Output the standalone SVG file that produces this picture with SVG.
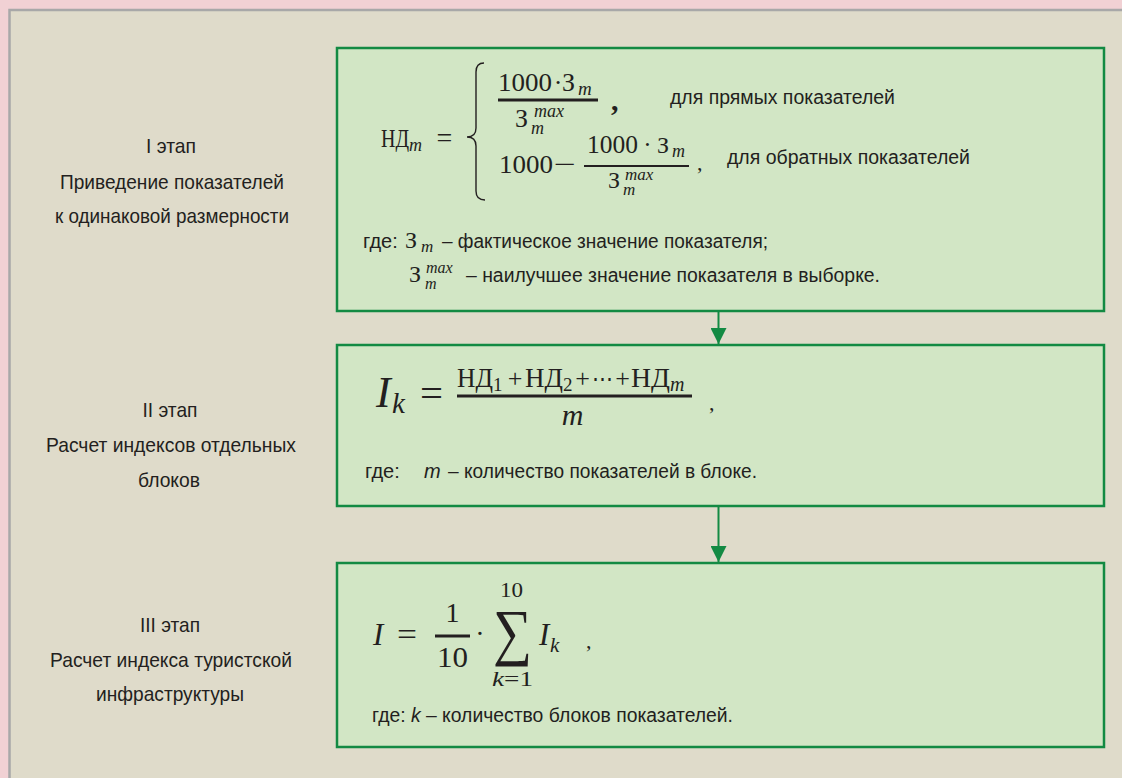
<svg xmlns="http://www.w3.org/2000/svg" width="1122" height="778" viewBox="0 0 1122 778">
<defs>
<style>
.lbl{font-family:"Liberation Sans",Arial,sans-serif;font-size:21px;fill:#231f20;text-anchor:middle}
.t{font-family:"Liberation Sans",Arial,sans-serif;font-size:20px;fill:#231f20}
.m{font-family:"Liberation Serif","Times New Roman",serif;fill:#231f20}
.i{font-style:italic}
.box{fill:#d2e6c5;stroke:#138a43;stroke-width:2.5}
.fl{stroke:#231f20}
.con{stroke:#138a43;stroke-width:2;fill:none}
</style>
<marker id="ah" markerWidth="17" markerHeight="16" refX="16" refY="8" orient="auto" markerUnits="userSpaceOnUse">
<path d="M0,0 L16,8 L0,16 Z" fill="#138a43"/>
</marker>
</defs>
<rect x="0" y="0" width="1122" height="778" fill="#f1d1d4"/>
<rect x="9.5" y="10" width="1200" height="900" fill="#dfdbca" stroke="#a8a8a8" stroke-width="2.5"/>

<g id="connectors">
<line class="con" x1="718.5" y1="311" x2="718.5" y2="344" marker-end="url(#ah)"/>
<line class="con" x1="718.5" y1="506" x2="718.5" y2="562" marker-end="url(#ah)"/>
</g>

<g id="stage1-label">
<text class="lbl" x="171" y="153" textLength="50" lengthAdjust="spacingAndGlyphs">I этап</text>
<text class="lbl" x="172" y="189" textLength="224" lengthAdjust="spacingAndGlyphs">Приведение показателей</text>
<text class="lbl" x="172" y="223" textLength="234" lengthAdjust="spacingAndGlyphs">к одинаковой размерности</text>
</g>
<g id="stage2-label">
<text class="lbl" x="170" y="417" textLength="55" lengthAdjust="spacingAndGlyphs">II этап</text>
<text class="lbl" x="171" y="452" textLength="250" lengthAdjust="spacingAndGlyphs">Расчет индексов отдельных</text>
<text class="lbl" x="169" y="487" textLength="62" lengthAdjust="spacingAndGlyphs">блоков</text>
</g>
<g id="stage3-label">
<text class="lbl" x="170" y="632" textLength="60" lengthAdjust="spacingAndGlyphs">III этап</text>
<text class="lbl" x="171" y="667" textLength="242" lengthAdjust="spacingAndGlyphs">Расчет индекса туристской</text>
<text class="lbl" x="170" y="701" textLength="148" lengthAdjust="spacingAndGlyphs">инфраструктуры</text>
</g>

<g id="box1">
<rect class="box" x="337" y="48" width="767" height="263"/>
<text class="m" x="381" y="147" font-size="25" textLength="28" lengthAdjust="spacingAndGlyphs">НД</text>
<text class="m i" x="409" y="151" font-size="18">m</text>
<text class="m" x="444.5" y="147" font-size="28" text-anchor="middle">=</text>
<path d="M484,63 Q476,63 476,72 L476,128 Q476,137 467,137 Q476,137 476,146 L476,191 Q476,200 485,200" fill="none" stroke="#231f20" stroke-width="1.4"/>
<text class="m" x="498" y="91" font-size="26" textLength="54" lengthAdjust="spacingAndGlyphs">1000</text>
<text class="m" x="558" y="91" font-size="26" text-anchor="middle">·</text>
<text class="m" x="562" y="91" font-size="26">З</text>
<text class="m i" x="578" y="95" font-size="19">m</text>
<line class="fl" x1="498" y1="100" x2="598" y2="100" stroke-width="3.2"/>
<text class="m" x="515" y="127" font-size="26">З</text>
<text class="m i" x="534" y="117" font-size="18">max</text>
<text class="m i" x="531" y="134" font-size="18">m</text>
<text class="m" x="611" y="110" font-size="30" font-weight="bold">,</text>
<text class="t" x="670" y="104" textLength="225" lengthAdjust="spacingAndGlyphs">для прямых показателей</text>
<text class="m" x="499" y="173" font-size="26" textLength="54" lengthAdjust="spacingAndGlyphs">1000</text>
<text class="m" x="565" y="173" font-size="26" text-anchor="middle" textLength="22" lengthAdjust="spacingAndGlyphs">−</text>
<text class="m" x="587" y="153" font-size="25" textLength="51" lengthAdjust="spacingAndGlyphs">1000</text>
<text class="m" x="647.5" y="153" font-size="25" text-anchor="middle">·</text>
<text class="m" x="657" y="153" font-size="24">З</text>
<text class="m i" x="672" y="157" font-size="18">m</text>
<line class="fl" x1="584" y1="166" x2="689" y2="166" stroke-width="2.2"/>
<text class="m" x="608" y="188" font-size="24">З</text>
<text class="m i" x="625" y="180" font-size="17">max</text>
<text class="m i" x="623" y="195" font-size="17">m</text>
<text class="m" x="697" y="170" font-size="22">,</text>
<text class="t" x="727" y="164" textLength="243" lengthAdjust="spacingAndGlyphs">для обратных показателей</text>
<text class="t" x="363" y="248">где:</text>
<text class="m" x="405" y="248" font-size="24">З</text>
<text class="m i" x="421" y="252" font-size="17">m</text>
<text class="t" x="442" y="248" textLength="326" lengthAdjust="spacingAndGlyphs">– фактическое значение показателя;</text>
<text class="m" x="409" y="282" font-size="24">З</text>
<text class="m i" x="426" y="273" font-size="16">max</text>
<text class="m i" x="425" y="289" font-size="16">m</text>
<text class="t" x="466" y="282" textLength="414" lengthAdjust="spacingAndGlyphs">– наилучшее значение показателя в выборке.</text>
</g>

<g id="box2">
<rect class="box" x="337" y="345" width="767" height="161"/>
<text class="m i" x="376" y="407" font-size="44">I</text>
<text class="m i" x="392" y="413" font-size="29">k</text>
<text class="m" x="431.5" y="407" font-size="40" text-anchor="middle" textLength="23" lengthAdjust="spacingAndGlyphs">=</text>
<text class="m" x="457" y="387" font-size="27" textLength="36" lengthAdjust="spacingAndGlyphs">НД</text>
<text class="m" x="493" y="391" font-size="19">1</text>
<text class="m" x="515" y="387" font-size="26" text-anchor="middle">+</text>
<text class="m" x="525" y="387" font-size="27" textLength="38" lengthAdjust="spacingAndGlyphs">НД</text>
<text class="m" x="563" y="391" font-size="19">2</text>
<text class="m" x="582.5" y="387" font-size="26" text-anchor="middle">+</text>
<text class="m" x="602.5" y="387" font-size="24" text-anchor="middle" textLength="21" lengthAdjust="spacingAndGlyphs">⋯</text>
<text class="m" x="622.5" y="387" font-size="26" text-anchor="middle">+</text>
<text class="m" x="631" y="387" font-size="27" textLength="39" lengthAdjust="spacingAndGlyphs">НД</text>
<text class="m i" x="670" y="391" font-size="20">m</text>
<line class="fl" x1="457" y1="396" x2="692" y2="396" stroke-width="3"/>
<text class="m i" x="572.5" y="425" font-size="30" text-anchor="middle">m</text>
<text class="m" x="709" y="410" font-size="22">,</text>
<text class="t" x="365" y="478">где:</text>
<text class="t i" x="424" y="478">m</text>
<text class="t" x="448" y="478" textLength="309" lengthAdjust="spacingAndGlyphs">– количество показателей в блоке.</text>
</g>

<g id="box3">
<rect class="box" x="337" y="563" width="767" height="184"/>
<text class="m i" x="373" y="645" font-size="31">I</text>
<text class="m" x="407" y="645" font-size="32" text-anchor="middle" textLength="20" lengthAdjust="spacingAndGlyphs">=</text>
<text class="m" x="452.5" y="622" font-size="28" text-anchor="middle">1</text>
<line class="fl" x1="435" y1="636" x2="470" y2="636" stroke-width="3"/>
<text class="m" x="452.5" y="667" font-size="29" text-anchor="middle" textLength="31" lengthAdjust="spacingAndGlyphs">10</text>
<text class="m" x="480" y="643" font-size="28" text-anchor="middle">·</text>
<text class="m" x="512.5" y="653" font-size="63" text-anchor="middle" textLength="39" lengthAdjust="spacingAndGlyphs">∑</text>
<text class="m" x="511.5" y="597" font-size="21" text-anchor="middle" textLength="23" lengthAdjust="spacingAndGlyphs">10</text>
<text class="m" x="512.5" y="686" font-size="21" text-anchor="middle" textLength="41" lengthAdjust="spacingAndGlyphs"><tspan class="i">k</tspan>=1</text>
<text class="m i" x="539" y="645" font-size="31">I</text>
<text class="m i" x="550" y="652" font-size="21">k</text>
<text class="m" x="586" y="648" font-size="22">,</text>
<text class="t" x="372" y="722" textLength="361" lengthAdjust="spacingAndGlyphs">где: <tspan class="i">k</tspan> – количество блоков показателей.</text>
</g>
</svg>
